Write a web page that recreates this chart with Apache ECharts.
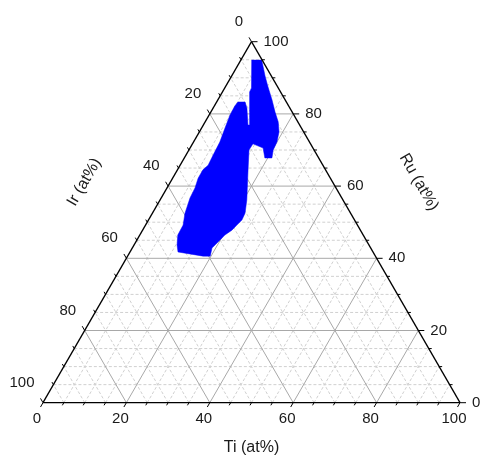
<!DOCTYPE html>
<html><head><meta charset="utf-8">
<script src="https://cdn.jsdelivr.net/npm/echarts@6/dist/echarts.min.js"></script>
<style>html,body{margin:0;padding:0;background:#fff}#c{width:480px;height:455px}</style>
</head><body><div id="c"></div>
<script>
// Tick values (at%) shared by the three ternary axes
const majorTicks = [0, 20, 40, 60, 80, 100];
const minorTicks = [5, 10, 15, 25, 30, 35, 45, 50, 55, 65, 70, 75, 85, 90, 95];
const axisTitles = ['Ti (at%)', 'Ru (at%)', 'Ir (at%)'];

// Outline of the blue composition region (Ir = 100 - Ti - Ru)
const regionTi = [2.6, 5.0, 6.3, 8.0, 10.2, 13.0, 15.4, 17.5, 19.1, 20.0, 20.2, 21.0, 19.3, 17.5, 14.5,
  14.4, 17.2, 20.8, 22.2, 22.4, 21.9, 21.4, 20.4, 19.9, 19.4, 19.1, 19.8, 18.1, 11.5, 10.3, 9.1, 9.0,
  7.8, 6.9, 6.7, 6.1, 6.1, 6.7, 6.5, 6.3, 5.6, 5.0, 4.9, 5.1, 6.8, 8.1, 10.7, 11.1, 6.5, 6.4];
const regionRu = [94.9, 94.9, 93.0, 90.5, 87.5, 83.85, 80.5, 77.8, 75.0, 72.2, 70.0, 67.8, 67.8, 70.55, 71.7,
  70.0, 63.9, 56.15, 52.5, 50.6, 49.2, 47.8, 46.45, 45.1, 43.7, 42.85, 40.6, 40.6, 41.75, 43.7, 46.45, 49.2,
  52.5, 56.7, 59.5, 62.2, 64.5, 65.8, 68.6, 72.2, 76.1, 79.7, 82.2, 83.3, 83.3, 81.6, 76.9, 76.9, 86.1, 87.2];

const SQ = Math.sqrt(3) / 2;
function toXY(ti, ru) { return [ti + ru / 2, ru * SQ]; }

const FONT = 'Liberation Sans, Arial, sans-serif';
const chart = echarts.init(document.getElementById('c'));

function renderItem(params, api) {
  const P = (ti, ru) => api.coord(toXY(ti, ru));
  const ch = [];
  const line = (a, b, style) => ch.push({ type: 'line', shape: { x1: a[0], y1: a[1], x2: b[0], y2: b[1] }, style: style });
  const minorStyle = { stroke: '#d0d0d0', lineWidth: 1, lineDash: [3, 2] };
  const majorStyle = { stroke: '#a8a8a8', lineWidth: 1 };
  const gridLines = (v, st) => {
    line(P(v, 0), P(v, 100 - v), st);          // Ti = v
    line(P(0, v), P(100 - v, v), st);          // Ru = v
    line(P(100 - v, 0), P(0, 100 - v), st);    // Ir = v
  };
  minorTicks.forEach(v => gridLines(v, minorStyle));
  majorTicks.filter(v => v > 0 && v < 100).forEach(v => gridLines(v, majorStyle));

  // region
  ch.push({ type: 'polygon', shape: { points: regionTi.map((t, i) => P(t, regionRu[i])) },
    style: { fill: '#0000ff', stroke: '#0000ff', lineWidth: 0.5 } });

  // triangle frame
  const A = P(0, 0), B = P(100, 0), C = P(0, 100);
  const axisStyle = { stroke: '#000', lineWidth: 1.3 };
  line(A, B, axisStyle); line(B, C, axisStyle); line(C, A, axisStyle);

  const tickStyle = { stroke: '#000', lineWidth: 1 };
  const dB = [-0.5, SQ], dR = [1, 0], dL = [-0.5, -SQ];
  const tick = (p, d, len) => line(p, [p[0] + d[0] * len, p[1] + d[1] * len], tickStyle);
  const label = (x, y, txt, align) => ch.push({ type: 'text', x: x, y: y,
    style: { text: txt, fill: '#1a1a1a', font: '15px ' + FONT, align: align, verticalAlign: 'middle' } });
  minorTicks.forEach(v => {
    tick(P(v, 0), dB, 3);
    tick(P(100 - v, v), dR, 3);
    tick(P(0, 100 - v), dL, 3);
  });
  majorTicks.forEach(v => {
    const pb = P(v, 0), pr = P(100 - v, v), pl = P(0, 100 - v);
    tick(pb, dB, 5); tick(pr, dR, 6); tick(pl, dL, 5);
    label(pb[0] - 6, pb[1] + 16, String(v), 'center');
    label(pr[0] + 12, pr[1], String(v), 'left');
    label(pl[0] - 8.5, pl[1] - 20, String(v), 'right');
  });

  const title = (x, y, txt, rot) => ch.push({ type: 'text', x: x, y: y, rotation: rot,
    style: { text: txt, fill: '#1a1a1a', font: '16px ' + FONT, align: 'center', verticalAlign: 'middle' } });
  const mB = P(50, 0), mR = P(50, 50), mL = P(0, 50);
  title(mB[0], mB[1] + 45, axisTitles[0], 0);
  title(mR[0] + 63, mR[1] - 40, axisTitles[1], -Math.PI / 3);
  title(mL[0] - 63, mL[1] - 40, axisTitles[2], Math.PI / 3);

  return { type: 'group', children: ch };
}

chart.setOption({
  animation: false,
  grid: { left: 43, top: 41.7, width: 417, height: 361 },
  xAxis: { type: 'value', min: 0, max: 100, show: false },
  yAxis: { type: 'value', min: 0, max: 100 * SQ, show: false },
  series: [{ type: 'custom', coordinateSystem: 'cartesian2d', clip: false, data: [[0, 0]], renderItem: renderItem }]
});
</script>
</body></html>
